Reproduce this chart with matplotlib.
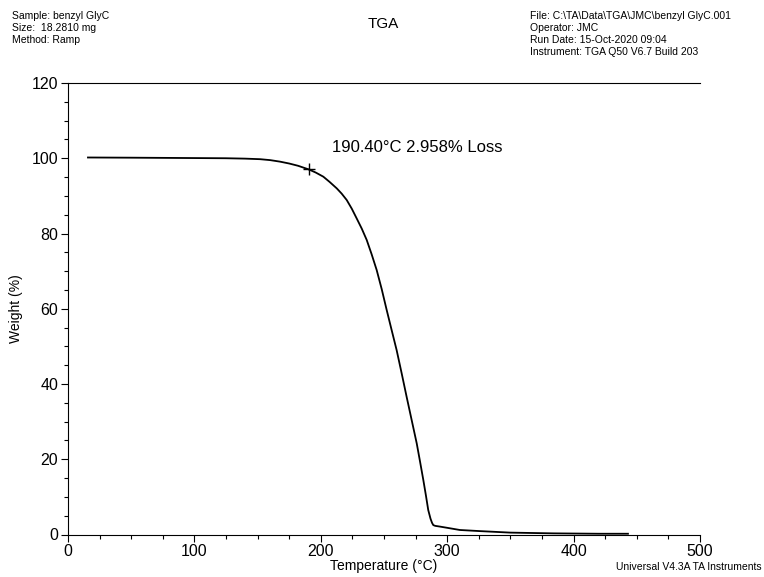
import matplotlib
matplotlib.use("Agg")
import matplotlib.pyplot as plt
from matplotlib.ticker import MultipleLocator

plt.rcParams['font.family'] = ['Liberation Sans', 'DejaVu Sans']

temperature = [15.8, 50, 100, 125, 140, 152, 160, 167.7, 175, 182, 190.4, 196, 202.0,
               207, 212.6, 216.5, 220.5, 224.5, 228.4, 232.4, 236.3, 240.2, 244.2,
               248.2, 252.1, 256, 260.0, 264, 267.9, 271.9, 275.9, 278.5, 281.1,
               283.2, 285.0, 286.8, 288.0, 289.0, 290.5, 294.3, 299.6, 310, 326,
               350, 384, 420, 443]
weight = [100.2, 100.15, 100.05, 100.0, 99.9, 99.75, 99.5, 99.1, 98.6, 98.0, 97.04, 96.2, 95.1,
          93.7, 92.0, 90.6, 88.9, 86.6, 84.0, 81.3, 78.3, 74.5, 70.3,
          65.2, 59.7, 54.4, 49.0, 42.8, 36.6, 30.4, 24.2, 19.4, 14.5,
          10.3, 6.5, 4.2, 3.1, 2.5, 2.3, 2.1, 1.8, 1.2, 0.9,
          0.5, 0.3, 0.2, 0.2]

marker_T = 190.40
marker_W = 97.04
annotation = "190.40°C 2.958% Loss"

header_left = ["Sample: benzyl GlyC", "Size:  18.2810 mg", "Method: Ramp"]
header_right = ["File: C:\\TA\\Data\\TGA\\JMC\\benzyl GlyC.001", "Operator: JMC",
                "Run Date: 15-Oct-2020 09:04", "Instrument: TGA Q50 V6.7 Build 203"]

fig = plt.figure(figsize=(7.64, 5.77), dpi=100)
ax = fig.add_axes([68/764, 1-534.5/577, 632/764, (534.5-83)/577])

ax.plot(temperature, weight, color='black', lw=1.3)
ax.plot([marker_T], [marker_W], marker='+', color='black', ms=9, mew=1.0)
ax.text(209, 102.8, annotation, fontsize=12, va='center', ha='left')

ax.set_xlim(0, 500)
ax.set_ylim(0, 120)
ax.xaxis.set_major_locator(MultipleLocator(100))
ax.xaxis.set_minor_locator(MultipleLocator(25))
ax.yaxis.set_major_locator(MultipleLocator(20))
ax.yaxis.set_minor_locator(MultipleLocator(5))
ax.tick_params(which='major', direction='out', length=5, width=0.8, labelsize=11.5, pad=2)
ax.tick_params(which='minor', direction='out', length=3, width=0.8)
ax.spines['right'].set_visible(False)
for s in ['left', 'bottom', 'top']:
    ax.spines[s].set_linewidth(0.8)

ax.set_xlabel("Temperature (°C)", fontsize=10, labelpad=0)
ax.set_ylabel("Weight (%)", fontsize=10, labelpad=6)

for i, t in enumerate(header_left):
    fig.text(12/764, 1-(16+12*i)/577, t, fontsize=7.5, va='center', ha='left')
for i, t in enumerate(header_right):
    fig.text(530/764, 1-(16+12*i)/577, t, fontsize=7.5, va='center', ha='left')
fig.text(383/764, 1-24/577, "TGA", fontsize=11, va='center', ha='center')
fig.text(762/764, 1-567/577, "Universal V4.3A TA Instruments", fontsize=7.5, va='center', ha='right')

fig.savefig("out.png", dpi=100)
